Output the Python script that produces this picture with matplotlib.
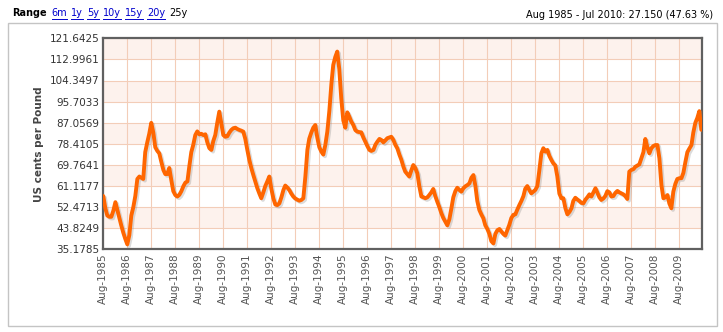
"""Цена кофе: месячный ряд Aug 1985 - Jul 2010."""

import matplotlib
matplotlib.use('Agg')
import matplotlib.pyplot as plt
import matplotlib.dates as mdates
import matplotlib.patheffects as pe
from matplotlib.patches import Rectangle
from matplotlib.lines import Line2D
import pandas as pd

# Месячные значения, US cents per Pound (по 12 значений на строку: Aug..Jul)
prices = [
    57.0, 52.0, 49.0, 48.5, 48.5, 51.0, 54.5, 51.5, 48.0, 45.0, 42.0, 39.5,
    37.2, 41.0, 49.0, 52.5, 57.0, 64.0, 65.0, 64.5, 64.0, 75.0, 79.0, 82.5,
    87.0, 83.0, 77.0, 75.5, 74.5, 71.0, 67.7, 66.0, 66.0, 68.5, 63.5, 59.0,
    57.4, 56.8, 57.5, 59.0, 61.0, 62.5, 63.0, 69.0, 75.0, 78.0, 82.0, 83.5,
    82.3, 82.5, 82.0, 82.3, 79.0, 76.6, 75.9, 79.5, 82.0, 87.0, 91.6, 87.0,
    82.0, 81.3, 81.5, 83.0, 84.1, 84.8, 85.0, 84.5, 84.1, 83.8, 83.4, 80.5,
    76.0, 71.8, 68.5, 65.6, 63.0, 60.2, 58.0, 56.1, 58.5, 61.1, 63.0, 65.0,
    60.0, 56.0, 53.5, 53.3, 54.0, 56.5, 59.5, 61.3, 60.5, 59.5, 58.0, 56.8,
    56.0, 55.5, 55.1, 55.4, 56.1, 65.0, 76.0, 80.5, 83.0, 85.0, 86.1, 81.0,
    77.0, 75.2, 74.0, 78.0, 83.4, 92.0, 103.0, 110.7, 114.0, 116.2, 109.0, 97.0,
    88.0, 85.0, 91.3, 89.5, 87.5, 86.1, 84.0, 83.4, 83.2, 83.1, 81.0, 79.3,
    77.5, 75.9, 75.5, 75.9, 78.0, 79.3, 80.4, 80.0, 79.0, 79.8, 80.7, 81.0,
    81.3, 80.0, 78.0, 76.5, 74.0, 71.8, 69.0, 67.0, 66.0, 65.0, 67.5, 69.7,
    68.5, 66.3, 61.0, 56.8, 56.5, 56.1, 56.5, 57.4, 58.5, 59.9, 57.0, 54.7,
    52.5, 50.0, 48.0, 46.5, 45.0, 47.5, 52.0, 56.5, 59.0, 60.4, 59.5, 58.8,
    60.2, 61.0, 61.5, 62.2, 64.5, 65.6, 61.0, 55.0, 51.3, 49.5, 47.9, 45.0,
    43.5, 41.5, 38.5, 37.6, 41.5, 43.0, 43.5, 42.5, 41.5, 40.8, 43.0, 45.2,
    48.0, 49.3, 49.5, 51.5, 53.3, 55.0, 57.0, 60.0, 61.1, 59.5, 58.1, 58.8,
    59.5, 61.1, 67.5, 74.5, 76.6, 75.2, 75.9, 73.5, 71.8, 70.4, 69.5, 65.0,
    58.0, 56.1, 56.1, 52.0, 49.5, 50.5, 52.0, 55.0, 56.3, 55.6, 55.0, 54.2,
    54.0, 55.5, 56.5, 57.7, 56.8, 58.5, 60.2, 58.5, 56.5, 55.4, 56.0, 57.0,
    59.0, 58.5, 56.8, 57.0, 58.3, 59.1, 58.5, 58.1, 57.7, 57.0, 55.8, 67.0,
    67.7, 68.0, 69.0, 69.5, 70.0, 72.5, 75.0, 80.4, 77.0, 74.5, 76.6, 77.5,
    77.9, 77.9, 72.5, 61.5, 56.1, 56.5, 57.4, 54.0, 52.0, 58.8, 62.0, 64.0,
    64.3, 64.3, 66.5, 71.0, 75.0, 76.5, 77.9, 83.0, 87.0, 89.0, 91.8, 84.15,
]
dates = pd.date_range('1985-08-01', periods=len(prices), freq='MS')

y_ticks = [35.1785, 43.8249, 52.4713, 61.1177, 69.7641, 78.4105,
           87.0569, 95.7033, 104.3497, 112.9961, 121.6425]
range_links = ['6m', '1y', '5y', '10y', '15y', '20y']
summary = 'Aug 1985 - Jul 2010: 27.150 (47.63 %)'

W, H = 723, 332
fig = plt.figure(figsize=(W / 100, H / 100), dpi=100)
fig.patch.set_facecolor('white')


def fx(px):
    return px / W


def fy(py):
    return 1 - py / H


# внешняя рамка
fig.patches.append(Rectangle((fx(8), fy(326)), fx(709), 303 / H,
                             transform=fig.transFigure, fill=False,
                             edgecolor='#c4c4c4', linewidth=1))

# строка диапазонов: элементы идут подряд с небольшим зазором
renderer = fig.canvas.get_renderer()
t = fig.text(fx(12), fy(13), 'Range', fontsize=7, fontweight='bold',
             color='black', va='center', ha='left')
x_next = t.get_window_extent(renderer).x1 + 5
for label in range_links:
    t = fig.text(x_next / W, fy(13), label, fontsize=7, color='#0000cc',
                 va='center', ha='left')
    bb = t.get_window_extent(renderer)
    fig.lines.append(Line2D([bb.x0 / W, bb.x1 / W], [fy(18.5), fy(18.5)],
                            transform=fig.transFigure, color='#0000cc',
                            linewidth=0.7))
    x_next = bb.x1 + 4
fig.text(x_next / W, fy(13), '25y', fontsize=7, color='black',
         va='center', ha='left')
fig.text(fx(713), fy(15), summary, fontsize=7, color='black',
         va='center', ha='right')

ax = fig.add_axes([fx(103.3), fy(249.3), fx(599), 211 / H])
ax.set_facecolor('white')

# чередующиеся полосы фона
for k in range(len(y_ticks) - 1):
    if k % 2 == 1:
        ax.axhspan(y_ticks[k], y_ticks[k + 1], color='#fdf2ed', zorder=0,
                   linewidth=0)

ax.plot(dates, prices, color='#ff6600', linewidth=2.8, solid_joinstyle='round',
        solid_capstyle='round', zorder=3,
        path_effects=[pe.SimpleLineShadow(offset=(1.2, -1.2), shadow_color='#888888',
                                          alpha=0.3),
                      pe.Normal()])

ax.set_ylim(y_ticks[0], y_ticks[-1])
ax.set_yticks(y_ticks)
ax.set_yticklabels([f'{v:.4f}' for v in y_ticks])
ax.set_xlim(dates[0], dates[-1] + pd.Timedelta(days=15))
ax.xaxis.set_major_locator(mdates.MonthLocator(bymonth=8))
ax.xaxis.set_major_formatter(mdates.DateFormatter('%b-%Y'))

ax.grid(True, color='#f3cdb8', linewidth=0.8, zorder=1)
ax.set_axisbelow(True)
ax.tick_params(axis='x', labelrotation=90, labelsize=7.5, length=0, pad=3)
ax.tick_params(axis='y', labelsize=7.5, length=0, pad=3)
for lbl in ax.get_xticklabels():
    lbl.set_color('#555555')
for lbl in ax.get_yticklabels():
    lbl.set_color('#333333')
for s in ax.spines.values():
    s.set_color('#606060')
    s.set_linewidth(1.6)

ax.set_ylabel('US cents per Pound', fontsize=7.5, fontweight='bold',
              color='#444444', labelpad=4)

plt.savefig('out.png', dpi=100)
